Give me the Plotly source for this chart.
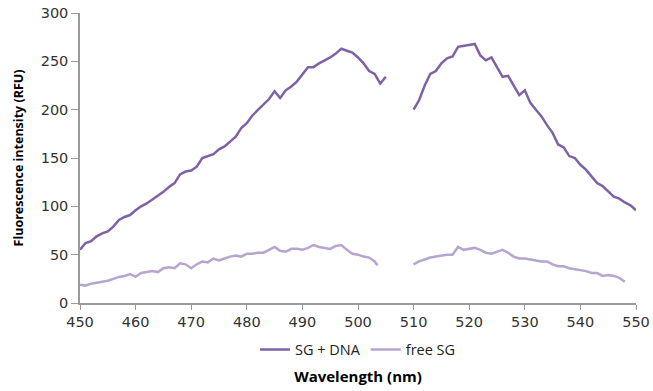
import plotly.graph_objects as go

wl_dna_a = list(range(450, 506))
sg_dna_a = [55, 62, 64, 69, 72, 74, 79, 86, 89, 91, 96, 100, 103, 107, 111, 115, 120, 124, 133, 136,
            137, 141, 150, 152, 154, 159, 162, 167, 172, 181, 186, 194, 200, 206, 211, 219, 212, 220, 224, 229,
            237, 244, 244, 248, 251, 254, 258, 263, 261, 259, 254, 248, 240, 237, 227, 234]
wl_dna_b = list(range(510, 551))
sg_dna_b = [200, 210, 225, 237, 240, 248, 253, 255, 265, 266, 267, 268, 256, 251, 254, 244, 234, 235, 225, 215,
            220, 207, 200, 193, 184, 176, 164, 161, 152, 150, 143, 138, 131, 124, 121, 116, 110, 108, 104, 101, 96]

wl_free_a = list(range(450, 504)) + [503.5]
free_a = [19, 18, 20, 21, 22, 23, 25, 27, 28, 30, 27, 31, 32, 33, 32, 36, 37, 36, 41, 40,
          36, 40, 43, 42, 46, 44, 46, 48, 49, 48, 51, 51, 52, 52, 55, 58, 54, 53, 56, 56,
          55, 57, 60, 58, 57, 56, 59, 60, 55, 51, 50, 48, 47, 43, 39]
wl_free_b = list(range(510, 549))
free_b = [40, 43, 45, 47, 48, 49, 50, 50, 58, 55, 56, 57, 55, 52, 51, 53, 55, 52, 48, 46,
          46, 45, 44, 43, 43, 40, 38, 38, 36, 35, 34, 33, 31, 31, 28, 29, 28, 26, 22]

x_ticks = list(range(450, 551, 10))
y_ticks = list(range(0, 301, 50))

fig = go.Figure()
fig.add_trace(go.Scatter(x=wl_dna_a + [None] + wl_dna_b, y=sg_dna_a + [None] + sg_dna_b,
                         mode="lines", name="SG + DNA", line=dict(color="#7E62A5", width=2.5),
                         connectgaps=False))
fig.add_trace(go.Scatter(x=wl_free_a + [None] + wl_free_b, y=free_a + [None] + free_b,
                         mode="lines", name="free SG", line=dict(color="#B6A5CE", width=2.5),
                         connectgaps=False))

tick_font = dict(family="DejaVu Sans, Verdana, sans-serif", size=14.5, color="#333333")
title_family = "Open Sans, Liberation Sans, sans-serif"
fig.update_layout(
    width=653, height=391,
    margin=dict(l=80, r=17, t=13, b=88, autoexpand=False),
    paper_bgcolor="white", plot_bgcolor="white",
    font=dict(family=title_family, size=14, color="#333333"),
    showlegend=True,
    legend=dict(orientation="h", x=0.5, xanchor="center", y=-0.105, yanchor="top",
                font=dict(family=title_family, size=14.5, color="#222222"), traceorder="normal"),
    xaxis=dict(range=[450, 550], tickvals=x_ticks, ticktext=[str(v) for v in x_ticks],
               tickfont=tick_font,
               showgrid=False, zeroline=False, showline=True, linecolor="#9a9a9a", linewidth=1.5,
               ticks="outside", ticklen=5, tickcolor="#9a9a9a",
               title=dict(text="<b>Wavelength (nm)</b>", font=dict(size=15, color="#000000"), standoff=42)),
    yaxis=dict(range=[0, 300], tickvals=y_ticks, ticktext=[str(v) for v in y_ticks],
               tickfont=tick_font,
               showgrid=False, zeroline=False, showline=True, linecolor="#9a9a9a", linewidth=1.5,
               ticks="outside", ticklen=7, tickcolor="#9a9a9a",
               title=dict(text="<b>Fluorescence intensity (RFU)</b>", font=dict(size=12.5, color="#000000"),
                          standoff=14)),
)

fig.write_html("out.html")
